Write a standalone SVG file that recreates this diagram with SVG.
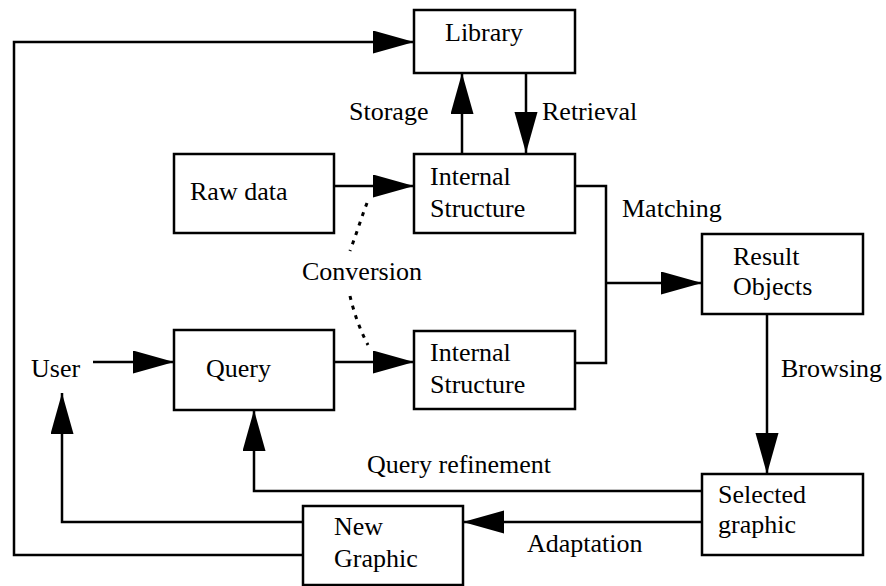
<svg xmlns="http://www.w3.org/2000/svg" width="886" height="586" viewBox="0 0 886 586">
<style>
.box{fill:#fff;stroke:#000;stroke-width:2.5}
.ln{fill:none;stroke:#000;stroke-width:2.5}
.arr{marker-end:url(#ah)}
.dot{fill:none;stroke:#000;stroke-width:3;stroke-dasharray:4 6}
text{font-family:"Liberation Serif","Times New Roman",serif;font-size:26px;fill:#000}
</style>
<defs>
<marker id="ah" markerUnits="userSpaceOnUse" markerWidth="42" markerHeight="24" refX="41" refY="11.5" orient="auto" viewBox="0 0 42 24">
<path d="M0,0 L41,11.5 L0,23 Z" fill="#000"/>
</marker>
</defs>
<rect width="886" height="586" fill="#fff"/>
<g id="connectors">
<path class="ln arr" d="M303,555 H14 V42 H414"/>
<path class="ln arr" d="M462,153 V73"/>
<path class="ln arr" d="M526,73 V153"/>
<path class="ln arr" d="M334,186 H414"/>
<path class="ln" d="M575,186 H606 V363 H575"/>
<path class="ln arr" d="M606,283 H702"/>
<path class="ln arr" d="M93,362 H174"/>
<path class="ln arr" d="M334,362 H414"/>
<path class="ln arr" d="M767,314 V474"/>
<path class="ln arr" d="M702,491 H254 V410"/>
<path class="ln arr" d="M702,522 H463"/>
<path class="ln arr" d="M303,522 H62 V393"/>
<path class="dot" d="M367,203 C362,216 357,232 350,251"/>
<path class="dot" d="M350,296 C354,313 360,330 368,345"/>
</g>
<g id="library"><rect class="box" x="414" y="10" width="161" height="63"/><text x="445" y="41">Library</text></g>
<g id="rawdata"><rect class="box" x="174" y="154" width="160" height="79"/><text x="190" y="200">Raw data</text></g>
<g id="internal1"><rect class="box" x="414" y="154" width="161" height="79"/><text x="430" y="185">Internal</text><text x="430" y="217">Structure</text></g>
<g id="result"><rect class="box" x="702" y="234" width="161" height="80"/><text x="733" y="265">Result</text><text x="733" y="295">Objects</text></g>
<g id="query"><rect class="box" x="174" y="330" width="160" height="80"/><text x="206" y="377">Query</text></g>
<g id="internal2"><rect class="box" x="414" y="331" width="161" height="78"/><text x="430" y="361">Internal</text><text x="430" y="393">Structure</text></g>
<g id="selected"><rect class="box" x="702" y="474" width="161" height="81"/><text x="718" y="503">Selected</text><text x="718" y="533">graphic</text></g>
<g id="newgraphic"><rect class="box" x="303" y="506" width="160" height="79"/><text x="334" y="535">New</text><text x="334" y="567">Graphic</text></g>
<g id="user"><text x="31" y="377">User</text></g>
<g id="labels">
<text x="349" y="120">Storage</text>
<text x="542" y="120">Retrieval</text>
<text x="622" y="217">Matching</text>
<text x="302" y="280">Conversion</text>
<text x="781" y="377">Browsing</text>
<text x="367" y="473">Query refinement</text>
<text x="527" y="552">Adaptation</text>
</g>
</svg>
